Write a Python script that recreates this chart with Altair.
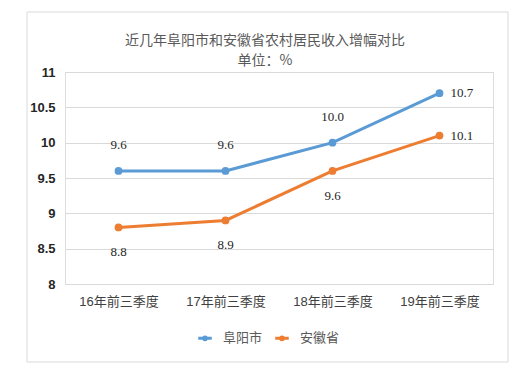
import altair as alt
import pandas as pd

categories = ["16年前三季度", "17年前三季度", "18年前三季度", "19年前三季度"]
fuyang = [9.6, 9.6, 10.0, 10.7]
anhui = [8.8, 8.9, 9.6, 10.1]
series_names = ["阜阳市", "安徽省"]
colors = ["#5B9BD5", "#ED7D31"]

rows = []
for c, v in zip(categories, fuyang):
    rows.append({"cat": c, "series": series_names[0], "value": v})
for c, v in zip(categories, anhui):
    rows.append({"cat": c, "series": series_names[1], "value": v})
df = pd.DataFrame(rows)

CJK = "Noto Sans CJK SC"
LBL = "Liberation Serif"

x_enc = alt.X("cat:N", sort=categories, title=None,
              scale=alt.Scale(type="point", padding=0.5),
              axis=alt.Axis(labelAngle=0, ticks=False, domain=False, grid=False,
                            labelFont="Liberation Sans, " + CJK, labelFontSize=13,
                            labelColor="#404040", labelPadding=11))
y_enc = alt.Y("value:Q", title=None,
              scale=alt.Scale(domain=[8, 11], nice=False, zero=False),
              axis=alt.Axis(values=[8, 8.5, 9, 9.5, 10, 10.5, 11], labelExpr="datum.value",
                            ticks=False, domain=False, gridColor="#D9D9D9", gridWidth=1,
                            labelFont="Liberation Sans", labelFontWeight="bold",
                            labelFontSize=13, labelColor="#262626", labelPadding=10))
color_enc = alt.Color("series:N", sort=series_names,
                      scale=alt.Scale(domain=series_names, range=colors),
                      legend=alt.Legend(title=None, orient="none", direction="horizontal",
                                        legendX=125, legendY=251,
                                        symbolType="M-0.5,0H0.5M-0.1,0A0.1,0.1,0,1,1,0.1,0A0.1,0.1,0,1,1,-0.1,0Z",
                                        symbolSize=729, symbolStrokeWidth=3,
                                        labelFont=CJK, labelFontSize=13, labelColor="#595959",
                                        columnPadding=4, labelOffset=3))

base = alt.Chart(df)

frame = alt.Chart(pd.DataFrame({"f": [0]})).mark_rect(
    fill=None, fillOpacity=0, stroke="#D9D9D9", strokeWidth=1
).encode(x=alt.value(-38), x2=alt.value(443), y=alt.value(-60), y2=alt.value(290))

lines = base.mark_line(strokeWidth=3).encode(x=x_enc, y=y_enc, color=color_enc)
points = base.mark_point(filled=True, size=60, opacity=1).encode(
    x=x_enc, y=y_enc, color=alt.Color("series:N", sort=series_names,
                                      scale=alt.Scale(domain=series_names, range=colors),
                                      legend=None))

last = categories[-1]
text_style = dict(font=LBL, fontSize=13, color="#262626")
lbl_top = base.transform_filter(
    (alt.datum.series == series_names[0]) & (alt.datum.cat != last)
).mark_text(dy=-26, baseline="middle", **text_style).encode(
    x=x_enc, y=y_enc, text=alt.Text("value:Q", format=".1f"))
lbl_bot = base.transform_filter(
    (alt.datum.series == series_names[1]) & (alt.datum.cat != last)
).mark_text(dy=25, baseline="middle", **text_style).encode(
    x=x_enc, y=y_enc, text=alt.Text("value:Q", format=".1f"))
lbl_right = base.transform_filter(alt.datum.cat == last).mark_text(
    dx=11, align="left", baseline="middle", **text_style).encode(
    x=x_enc, y=y_enc, text=alt.Text("value:Q", format=".1f"))

chart = alt.layer(frame, lines, points, lbl_top, lbl_bot, lbl_right).properties(
    width=428, height=212,
    title=alt.TitleParams(
        text=["近几年阜阳市和安徽省农村居民收入增幅对比", "单位：%"],
        font=CJK, fontSize=14, fontWeight="normal", color="#595959",
        anchor="middle", frame="group", dx=-14, lineHeight=20, offset=-56),
    autosize=alt.AutoSizeParams(type="none"),
    padding={"left": 57, "top": 64, "right": 21, "bottom": 79},
).configure_view(stroke=None).configure(background="white")

chart.save("out.html", embed_options={"renderer": "svg", "actions": False})
